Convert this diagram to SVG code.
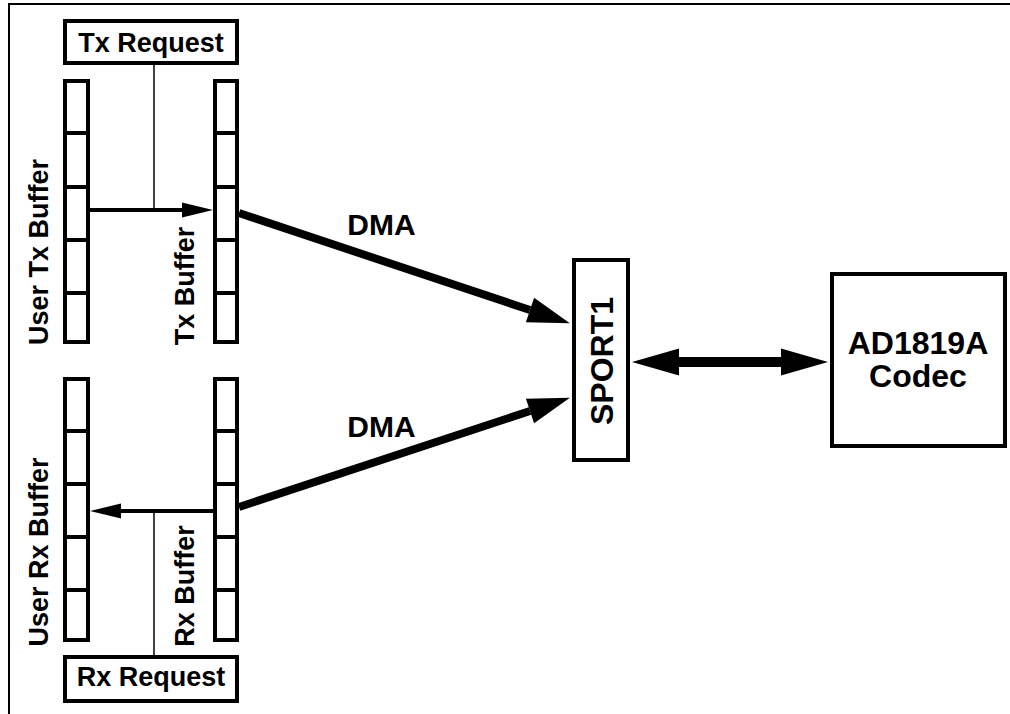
<svg xmlns="http://www.w3.org/2000/svg" width="1010" height="714" viewBox="0 0 1010 714">
<style>
.box{fill:#fff;stroke:#000;stroke-width:4}
.cell{stroke:#000;stroke-width:4}
.thin{stroke:#000;stroke-width:1.5;fill:none}
.arr{stroke:#000;stroke-width:4;fill:none}
.dma{stroke:#000;stroke-width:8;fill:none}
.bus{stroke:#000;stroke-width:10;fill:none}
text{font-family:"Liberation Sans",Arial,sans-serif;font-weight:bold;fill:#000}
.lbl{font-size:27px}
.dmal{font-size:30px}
.big{font-size:32px}
</style>
<defs>
<marker id="ah" markerUnits="userSpaceOnUse" markerWidth="32" markerHeight="16" refX="0" refY="7.5" orient="auto" overflow="visible"><path d="M0,0 L31,7.5 L0,15 z" fill="#000"/></marker>
<marker id="ahd" markerUnits="userSpaceOnUse" markerWidth="43" markerHeight="27" refX="0" refY="13" orient="auto" overflow="visible"><path d="M0,0 L42,13 L0,26 z" fill="#000"/></marker>
<marker id="ahb" markerUnits="userSpaceOnUse" markerWidth="48" markerHeight="28" refX="0" refY="13.5" orient="auto-start-reverse" overflow="visible"><path d="M0,0 L47,13.5 L0,27 z" fill="#000"/></marker>
</defs>
<g id="frame"><path d="M9,714 V4 H1010" fill="none" stroke="#000" stroke-width="2"/></g>
<g id="connectors">
<line class="thin" x1="154" y1="65" x2="154" y2="210"/>
<line class="thin" x1="154" y1="511" x2="154" y2="655"/>
<line class="arr" x1="90" y1="210" x2="182" y2="210" marker-end="url(#ah)"/>
<line class="arr" x1="213" y1="511" x2="121" y2="511" marker-end="url(#ah)"/>
<line class="dma" x1="239" y1="213" x2="530" y2="310" marker-end="url(#ahd)"/>
<line class="dma" x1="239" y1="507" x2="530" y2="411" marker-end="url(#ahd)"/>
<line class="bus" x1="679" y1="362" x2="781" y2="362" marker-start="url(#ahb)" marker-end="url(#ahb)"/>
</g>
<g id="tx-request"><rect class="box" x="65" y="21" width="172" height="42"/><text class="lbl" x="151" y="52" text-anchor="middle">Tx Request</text></g>
<g id="rx-request"><rect class="box" x="65" y="657" width="172" height="44"/><text class="lbl" x="151" y="686" text-anchor="middle">Rx Request</text></g>
<g id="user-tx-buffer"><rect class="box" x="65" y="81" width="23" height="261"/><path class="cell" d="M65,133H88M65,187H88M65,240H88M65,293H88"/><text class="lbl" text-anchor="middle" transform="translate(48,252) rotate(-90)">User Tx Buffer</text></g>
<g id="tx-buffer"><rect class="box" x="215" y="81" width="22" height="261"/><path class="cell" d="M215,133H237M215,187H237M215,240H237M215,293H237"/><text class="lbl" text-anchor="middle" transform="translate(194,286) rotate(-90)">Tx Buffer</text></g>
<g id="user-rx-buffer"><rect class="box" x="65" y="379" width="23" height="261"/><path class="cell" d="M65,431H88M65,484H88M65,537H88M65,590H88"/><text class="lbl" text-anchor="middle" transform="translate(48,552) rotate(-90)">User Rx Buffer</text></g>
<g id="rx-buffer"><rect class="box" x="215" y="379" width="22" height="261"/><path class="cell" d="M215,431H237M215,484H237M215,537H237M215,590H237"/><text class="lbl" text-anchor="middle" transform="translate(194,586) rotate(-90)">Rx Buffer</text></g>
<g id="dma-labels"><text class="dmal" x="381.5" y="235" text-anchor="middle">DMA</text><text class="dmal" x="381.5" y="437" text-anchor="middle">DMA</text></g>
<g id="sport1"><rect class="box" x="574" y="260" width="54" height="200"/><text class="big" text-anchor="middle" transform="translate(613,361) rotate(-90)">SPORT1</text></g>
<g id="codec"><rect class="box" x="832" y="274" width="173" height="172"/><text class="big" x="918" y="354" text-anchor="middle">AD1819A</text><text class="big" x="918" y="387" text-anchor="middle">Codec</text></g>
</svg>
